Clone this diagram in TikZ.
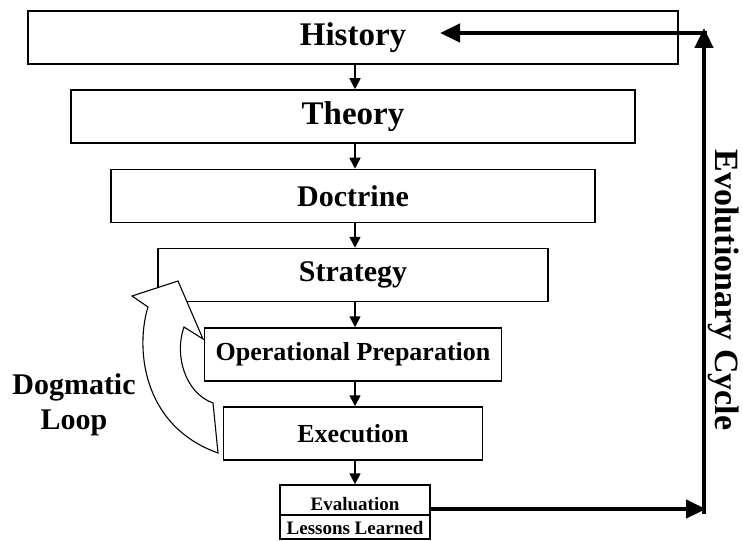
\documentclass[tikz,border=0pt]{standalone}
\usepackage{fontspec}
\setmainfont{Liberation Serif}
\usetikzlibrary{arrows.meta}
\newcommand\labelfont[1]{\fontsize{#1}{#1}\selectfont\bfseries}
\begin{document}
\begin{tikzpicture}[x=1pt,y=-1pt,
  stage/.style={draw, line width=1.5pt, rectangle, inner sep=0pt, minimum height=53pt},
  flow/.style={line width=1.6pt, -{Triangle[length=11pt,width=11pt]}},
  cyclearrow/.style={line width=4.5pt, -{Triangle[length=20pt,width=18pt]}},
  loopshape/.style={draw, fill=white, line width=1.1pt, line join=miter}
]
\useasboundingbox (0,0) rectangle (743,540);

% the descending stages
\node[stage, minimum width=650pt, font=\labelfont{33}] (history)   at (353,37.5)  {History};
\node[stage, minimum width=564pt, font=\labelfont{33}] (theory)    at (353,116.5) {Theory};
\node[stage, minimum width=484pt, font=\labelfont{30}] (doctrine)  at (353,196)   {Doctrine};
\node[stage, minimum width=390pt, font=\labelfont{30}] (strategy)  at (353,275)   {Strategy};
\node[stage, minimum width=297pt, font=\labelfont{26}] (oper)      at (353,354.5) {Operational Preparation};
\node[stage, minimum width=259pt, font=\labelfont{26}] (execution) at (353,433.5) {Execution};
\node[stage, minimum width=150pt, minimum height=54pt] (eval)      at (355,512)   {};
\draw[line width=1.5pt] (eval.west |- 0,515) -- (eval.east |- 0,515);
\node[anchor=base, inner sep=0pt, font=\labelfont{19}] (evaltop) at (355,510) {Evaluation};
\node[anchor=base, inner sep=0pt, font=\labelfont{19}] (evalbot) at (355,534) {Lessons Learned};

% flow between stages
\draw[flow] (history.south -| 355,0) -- (theory.north -| 355,0);
\draw[flow] (theory.south -| 355,0) -- (doctrine.north -| 355,0);
\draw[flow] (doctrine.south -| 355,0) -- (strategy.north -| 355,0);
\draw[flow] (strategy.south -| 355,0) -- (oper.north -| 355,0);
\draw[flow] (oper.south -| 355,0) -- (execution.north -| 355,0);
\draw[flow] (execution.south -| 355,0) -- (eval.north);

% dogmatic loop: hollow curved arrow from Execution back up to Strategy
\path[loopshape] (178,281) -- (132,296) -- (148,307)
  .. controls (136,345) and (140,425) .. (218,453)
  -- (213,403)
  .. controls (185,393) and (174,355) .. (184,327)
  -- (203,339) -- cycle;
\node[anchor=north, inner sep=0pt, align=center, font=\fontsize{30}{35}\selectfont\bfseries]
  (dogmatic) at (74,373) {Dogmatic\\Loop};

% evolutionary cycle back to History
\coordinate (corner-br) at (706,509);
\coordinate (rise-start) at (704,514);
\coordinate (rise-end) at (704,28);
\coordinate (top-start) at (706.5,33);
\coordinate (history-in) at (440,33);
\draw[cyclearrow] (eval.east |- corner-br) -- (corner-br);
\draw[cyclearrow] (rise-start) -- (rise-end);
\draw[cyclearrow] (top-start) -- (history-in);
\node[rotate=-90, inner sep=0pt, font=\labelfont{34}] (evolution) at (724,290) {Evolutionary Cycle};
\end{tikzpicture}
\end{document}
